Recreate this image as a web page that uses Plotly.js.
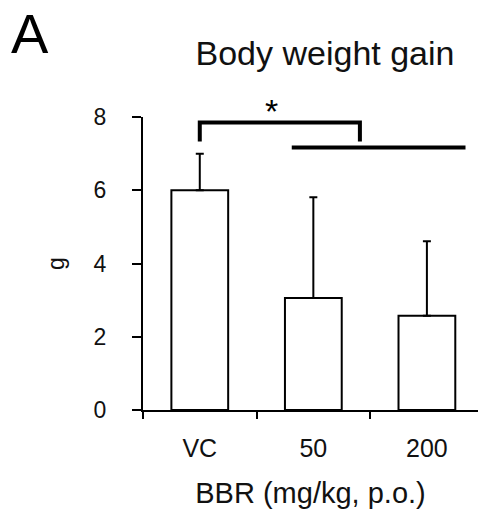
<!DOCTYPE html>
<html>
<head>
<meta charset="utf-8">
<script src="https://cdn.plot.ly/plotly-3.0.1.min.js"></script>
<style>html,body{margin:0;padding:0;background:#fff;}#chart{width:478px;height:521px;}</style>
</head>
<body>
<div id="chart"></div>
<script>
// Data
var categories = ["VC", "50", "200"];
var gainMean = [6.0, 3.06, 2.57];
var gainErrUp = [1.0, 2.75, 2.04];
var yTickVals = [0, 2, 4, 6, 8];
var panelLabel = "A";
var chartTitle = "Body weight gain";
var xTitle = "BBR (mg/kg, p.o.)";
var yTitle = "g";
// significance bracket: VC vs the two BBR groups
var sigLabel = "*";

var font = "Arial, 'Liberation Sans', sans-serif";

var trace = {
  type: "bar",
  x: categories,
  y: gainMean,
  width: 0.5,
  marker: {color: "#ffffff", line: {color: "#000000", width: 2}},
  error_y: {
    type: "data", symmetric: false, array: gainErrUp,
    arrayminus: gainMean.map(function(){return 0;}),
    color: "#000000", thickness: 2, width: 4
  },
  hoverinfo: "none"
};

var layout = {
  width: 478, height: 521,
  margin: {l: 143, r: 0, t: 116.5, b: 111},
  paper_bgcolor: "#ffffff", plot_bgcolor: "#ffffff",
  showlegend: false,
  font: {family: font, color: "#000000"},
  title: {
    text: chartTitle, font: {family: font, size: 34, color: "#111"},
    xref: "container", yref: "container", x: 325/478, xanchor: "center",
    y: (521-53)/521, yanchor: "middle"
  },
  xaxis: {
    type: "category", range: [-0.5, 2.45],
    showline: true, linecolor: "#000", linewidth: 2,
    ticks: "outside", ticklen: 7, tickwidth: 2, tickcolor: "#000",
    tickson: "boundaries",
    showgrid: false, zeroline: false,
    tickfont: {family: font, size: 25, color: "#111"},
    ticklabelstandoff: 15,
    title: {text: xTitle, font: {family: font, size: 29, color: "#111"}, standoff: 22},
    fixedrange: true
  },
  yaxis: {
    range: [0, 8], tickvals: yTickVals,
    showline: true, linecolor: "#000", linewidth: 2,
    ticks: "outside", ticklen: 9, tickwidth: 2, tickcolor: "#000",
    showgrid: false, zeroline: false,
    tickfont: {family: font, size: 23, color: "#111"},
    ticklabelstandoff: 21,
    title: {text: yTitle, font: {family: font, size: 23, color: "#111"}, standoff: 23},
    fixedrange: true
  },
  shapes: [
    {type: "path", xref: "x", yref: "y",
     path: "M 0,7.33 L 0,7.85 L 1.41,7.85 L 1.41,7.33",
     line: {color: "#000", width: 4}},
    {type: "line", xref: "x", yref: "y", x0: 0.81, x1: 2.34, y0: 7.17, y1: 7.17,
     line: {color: "#000", width: 4}}
  ],
  annotations: [
    {text: sigLabel, xref: "x", yref: "paper", x: 0.63, y: (410-110)/293.5,
     xanchor: "center", yanchor: "middle", showarrow: false,
     font: {family: font, size: 34, color: "#000"}},
    {text: panelLabel, xref: "paper", yref: "paper", x: (10-143)/335, y: 410/293.5,
     xanchor: "left", yanchor: "top", showarrow: false, borderpad: 0,
     font: {family: font, size: 56, color: "#000"}}
  ]
};

Plotly.newPlot("chart", [trace], layout, {staticPlot: true, displayModeBar: false});
</script>
</body>
</html>
